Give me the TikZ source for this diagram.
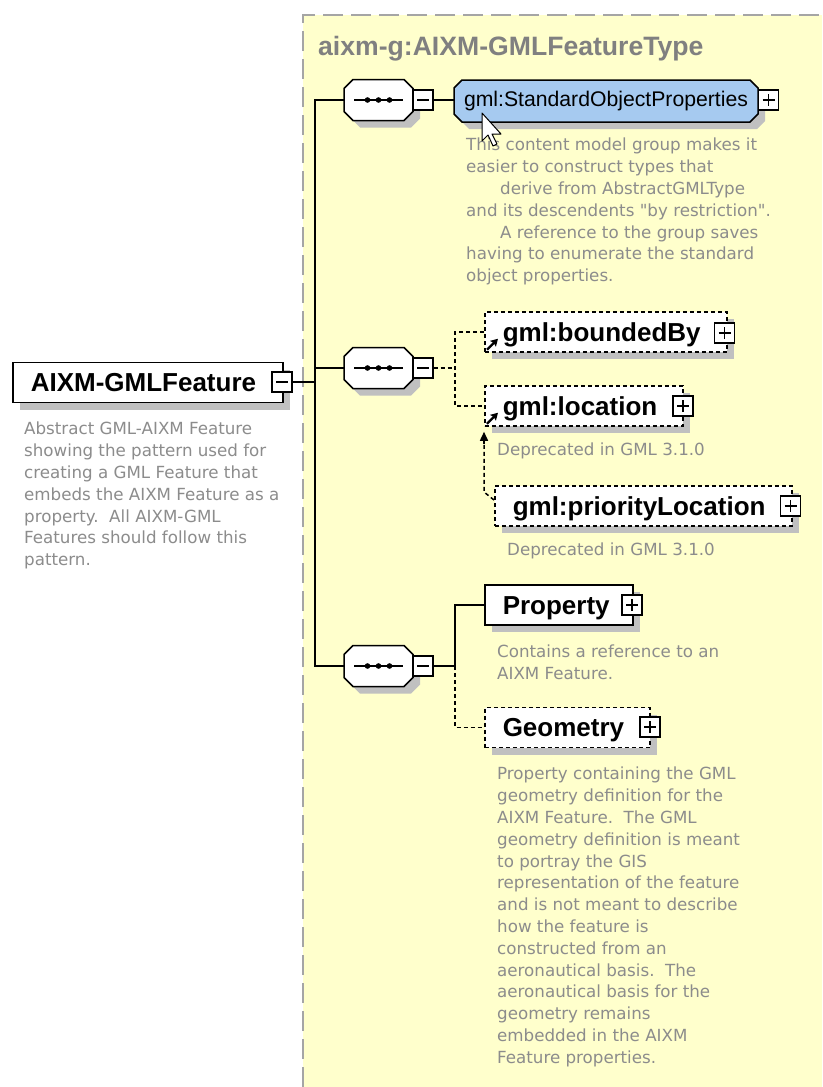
\documentclass[tikz,border=0pt]{standalone}
\usepackage{fontspec}
\setmainfont{Liberation Sans}
\newfontfamily\descfont{DejaVu Sans}
\usetikzlibrary{shadows,calc,arrows.meta}
\definecolor{bgyellow}{RGB}{255,255,204}
\definecolor{bordergray}{RGB}{165,165,165}
\definecolor{titlegray}{RGB}{128,128,128}
\definecolor{descgray}{RGB}{140,140,140}
\definecolor{shadowgray}{RGB}{192,192,192}
\definecolor{groupblue}{RGB}{166,202,240}
\tikzset{
  conn/.style={line width=1.5pt},
  dconn/.style={line width=1.5pt, dash pattern=on 4pt off 3pt},
  shad/.style={drop shadow={shadow xshift=7pt, shadow yshift=-7pt, fill=shadowgray, opacity=1}},
  elem/.style={draw, line width=1.5pt, fill=white, anchor=west, minimum height=40pt,
    inner xsep=18pt, inner ysep=0pt, align=left,
    font=\fontsize{26}{30}\selectfont\bfseries, text height=18.5pt, text depth=0pt, shad},
  optelem/.style={elem, dash pattern=on 4pt off 3pt},
  pmbox/.style={draw, fill=white, line width=1.3pt, minimum size=20pt, inner sep=0pt},
  minusbox/.style={pmbox, path picture={\draw[line width=1.3pt]
    ([xshift=4pt]path picture bounding box.west) -- ([xshift=-4pt]path picture bounding box.east);}},
  plusbox/.style={pmbox, path picture={\draw[line width=1.3pt]
    ([xshift=4pt]path picture bounding box.west) -- ([xshift=-4pt]path picture bounding box.east)
    ([yshift=4pt]path picture bounding box.south) -- ([yshift=-4pt]path picture bounding box.north);}},
  slot/.style={rectangle, inner sep=0pt, minimum width=#1},
  seqslot/.style={rectangle, inner sep=0pt, minimum width=69pt, minimum height=41pt},
  desc/.style={anchor=north west, inner sep=0pt, align=left, text=descgray,
    font=\descfont\fontsize{16.7}{21.8}\selectfont},
  titletext/.style={anchor=base west, inner sep=0pt, text=titlegray, font=\fontsize{26.6}{30}\selectfont\bfseries},
  refarrow/.style={line width=2.4pt, -{Stealth[length=7pt,width=8pt,inset=1pt]}},
  uparrow/.style={line width=1.5pt, -{Stealth[length=9pt,width=8pt,inset=0pt]}},
  pics/octo/.style args={#1/#2/#3/#4}{code={
    \fill[shadowgray, shift={(7,7)}] (-#1+#3,-#2) -- (#1-#3,-#2) -- (#1,-#2+#3) -- (#1,#2-#3)
      -- (#1-#3,#2) -- (-#1+#3,#2) -- (-#1,#2-#3) -- (-#1,-#2+#3) -- cycle;
    \draw[line width=1.5pt, fill=#4] (-#1+#3,-#2) -- (#1-#3,-#2) -- (#1,-#2+#3) -- (#1,#2-#3)
      -- (#1-#3,#2) -- (-#1+#3,#2) -- (-#1,#2-#3) -- (-#1,-#2+#3) -- cycle;
  }},
  pics/seqmark/.style={code={
    \draw[line width=1.5pt] (-24.5,0) -- (24.5,0);
    \fill[black] (-11,0) circle (2.8pt) (0,0) circle (2.8pt) (11,0) circle (2.8pt);
  }},
}
\begin{document}
\begin{tikzpicture}[x=1pt, y=-1pt]
\useasboundingbox (0,0) rectangle (822,1087);
\fill[white] (0,0) rectangle (822,1087);
% complex type area
\fill[bgyellow] (303,15) rectangle (822,1087);
\draw[bordergray, line width=2.5pt, dash pattern=on 20pt off 8pt] (303,1087) -- (303,15) -- (822,15);
\node[titletext] (title) at (318,55) {aixm-g:AIXM-GMLFeatureType};

% root element
\node[elem, text width=234pt] (aixm) at (12,382.5) {AIXM-GMLFeature};
\node[minusbox] (aixmM) at (282,382) {};
\node[desc] (aixmD) at (24,422) {Abstract GML-AIXM Feature\\showing the pattern used for\\creating a GML Feature that\\embeds the AIXM Feature as a\\property.\ \ All AIXM-GML\\Features should follow this\\pattern.};

% sequence compositors
\coordinate (trunk) at (315,382);
\foreach \nm/\yy in {s1/100, s2/368, s3/666}{
  \pic at (378.5,\yy) {octo={34.5/20.5/9/white}};
  \pic at (378.5,\yy) {seqmark};
  \node[seqslot] (\nm) at (378.5,\yy) {};
  \node[minusbox] (\nm m) at (423,\yy) {};
}
\draw[conn] (aixmM.east) -- (trunk);
\draw[conn] (s1.west) -| (trunk) |- (s3.west);
\draw[conn] (trunk |- s2.west) -- (s2.west);

% group
\pic at (606,101) {octo={152/21/8/groupblue}};
\node[slot=304pt, minimum height=42pt, font=\fontsize{21.2}{24}\selectfont, text height=15pt, text depth=4pt] (sop) at (606,101) {gml:StandardObjectProperties};
\node[plusbox] (sopP) at (768.5,100) {};
\draw[conn] (s1m.east) -- (s1m.east -| sop.west);
\node[desc] (sopD) at (466,138) {This content model group makes it\\easier to construct types that\\\hspace*{34pt}derive from AbstractGMLType\\and its descendents "by restriction".\\\hspace*{34pt}A reference to the group saves\\having to enumerate the standard\\object properties.};
% mouse pointer
\draw[fill=white, line width=1pt, line join=round] (482,113) -- ++(0,28) -- ++(6,-6) -- ++(5,11) -- ++(4,-2) -- ++(-5,-10) -- ++(9,0) -- cycle;

% second sequence: boundedBy / location
\node[optelem, text width=206pt] (bnd) at (484,332) {gml:boundedBy};
\node[plusbox] (bndP) at (724.5,333) {};
\node[optelem, text width=162pt] (loc) at (484,406) {gml:location};
\node[plusbox] (locP) at (683,406) {};
\node[desc] (locD) at (497,443) {Deprecated in GML 3.1.0};
\node[optelem, text width=261pt] (prio) at (494,506) {gml:priorityLocation};
\node[plusbox] (prioP) at (790.5,506) {};
\node[desc] (prioD) at (507,543) {Deprecated in GML 3.1.0};
\coordinate (b2) at (455,368);
\draw[dconn] (s2m.east) -- (b2);
\draw[dconn] (bnd.west) -| (b2) |- (loc.west);
\draw[refarrow] ($(bnd.south west)+(3,-3)$) -- ++(11,-11);
\draw[refarrow] ($(loc.south west)+(3,-3)$) -- ++(11,-11);
\coordinate (q) at (484,492);
\coordinate (qtop) at (q |- loc.south);
\draw[dconn] ($(prio.west)+(0,-6)$) -- (q) -- ($(qtop)+(0,14)$);
\draw[uparrow] ($(qtop)+(0,17)$) -- ($(qtop)+(0,5)$);

% third sequence: Property / Geometry
\node[elem, text width=112pt] (prop) at (484,605) {Property};
\node[plusbox] (propP) at (632,605) {};
\node[desc] (propD) at (497,645) {Contains a reference to an\\AIXM Feature.};
\node[optelem, text width=129pt] (geo) at (484,727.5) {Geometry};
\node[plusbox] (geoP) at (650,727) {};
\node[desc] (geoD) at (497,767) {Property containing the GML\\geometry definition for the\\AIXM Feature.\ \ The GML\\geometry definition is meant\\to portray the GIS\\representation of the feature\\and is not meant to describe\\how the feature is\\constructed from an\\aeronautical basis.\ \ The\\aeronautical basis for the\\geometry remains\\embedded in the AIXM\\Feature properties.};
\coordinate (b3) at (455,666);
\draw[conn] (s3m.east) -- (b3) |- (prop.west);
\draw[dconn] (b3) |- (geo.west);
\end{tikzpicture}
\end{document}
